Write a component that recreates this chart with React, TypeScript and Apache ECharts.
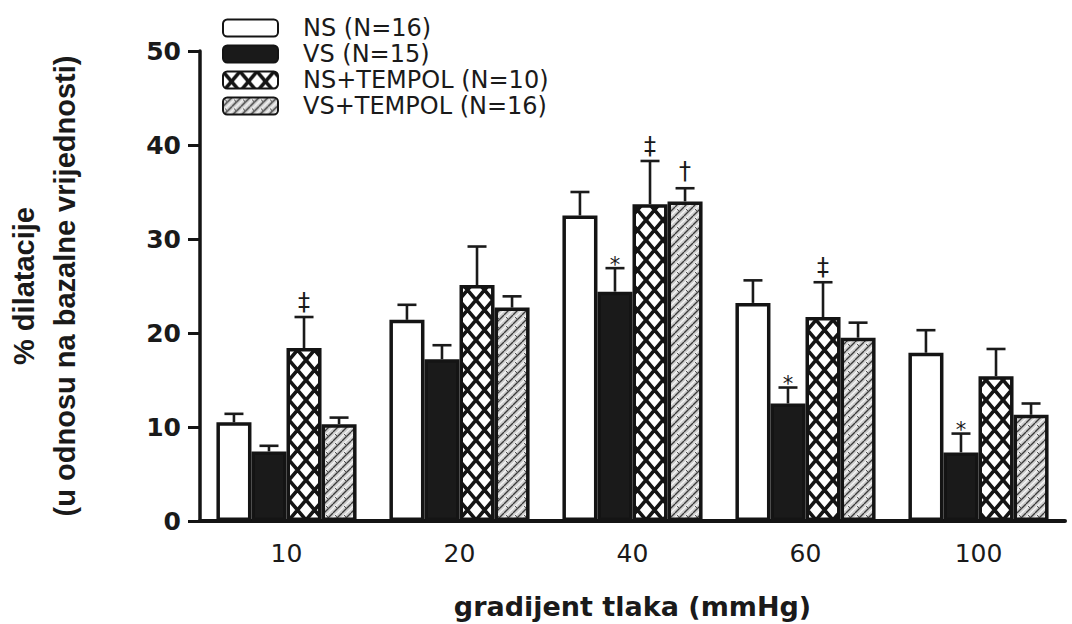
import React, { useEffect, useRef } from "react";
import * as echarts from "echarts";

const categories = ["10", "20", "40", "60", "100"];
const seriesNames = ["NS (N=16)", "VS (N=15)", "NS+TEMPOL (N=10)", "VS+TEMPOL (N=16)"];

const nsValues = [10.5, 21.4, 32.5, 23.2, 17.9];
const vsValues = [7.4, 17.2, 24.4, 12.5, 7.3];
const nsTempolValues = [18.4, 25.1, 33.7, 21.7, 15.4];
const vsTempolValues = [10.3, 22.7, 34.0, 19.5, 11.3];

const nsErrors = [0.9, 1.6, 2.5, 2.4, 2.4];
const vsErrors = [0.6, 1.5, 2.5, 1.7, 2.0];
const nsTempolErrors = [3.3, 4.1, 4.6, 3.7, 2.9];
const vsTempolErrors = [0.7, 1.2, 1.4, 1.6, 1.2];

const nsMarks = ["", "", "", "", ""];
const vsMarks = ["", "", "*", "*", "*"];
const nsTempolMarks = ["‡", "", "‡", "‡", ""];
const vsTempolMarks = ["", "", "†", "", ""];

const yTicks = [0, 10, 20, 30, 40, 50];

function makeCrossHatch() {
  const w = 17, h = 20;
  const c = document.createElement("canvas");
  c.width = w; c.height = h;
  const ctx = c.getContext("2d")!;
  ctx.fillStyle = "#ffffff";
  ctx.fillRect(0, 0, w, h);
  ctx.strokeStyle = "#141414";
  ctx.lineWidth = 3.6;
  for (let k = -1; k <= 1; k++) {
    ctx.beginPath();
    ctx.moveTo(k * w, 0); ctx.lineTo(k * w + w, h);
    ctx.moveTo(k * w + w, 0); ctx.lineTo(k * w, h);
    ctx.stroke();
  }
  return { image: c.toDataURL(), repeat: "repeat", imageWidth: w, imageHeight: h };
}

function makeBrick() {
  const s = 9;
  const c = document.createElement("canvas");
  c.width = s; c.height = s;
  const ctx = c.getContext("2d")!;
  ctx.fillStyle = "#cfcfcf";
  ctx.fillRect(0, 0, s, s);
  ctx.strokeStyle = "#3a3a3a";
  ctx.lineWidth = 1.3;
  for (let k = -1; k <= 1; k++) {
    ctx.beginPath();
    ctx.moveTo(k * s, s); ctx.lineTo(k * s + s, 0);
    ctx.stroke();
  }
  ctx.strokeStyle = "#f4f4f4";
  ctx.lineWidth = 1.4;
  for (let k = -1; k <= 1; k++) {
    ctx.beginPath();
    ctx.moveTo(k * s + s / 2, s); ctx.lineTo(k * s + s / 2 + s, 0);
    ctx.stroke();
  }
  ctx.strokeStyle = "#555555";
  ctx.lineWidth = 1;
  ctx.beginPath();
  ctx.moveTo(2, 2); ctx.lineTo(4.5, 4.5);
  ctx.stroke();
  return { image: c.toDataURL(), repeat: "repeat", imageWidth: s, imageHeight: s };
}

const CAT_GAP = 0.19;

export default function App() {
  const ref = useRef<HTMLDivElement>(null);

  useEffect(() => {
    if (!ref.current) return;
    const chart = echarts.init(ref.current, null, { renderer: "svg" });

    const values = [nsValues, vsValues, nsTempolValues, vsTempolValues];
    const errors = [nsErrors, vsErrors, nsTempolErrors, vsTempolErrors];
    const marks = [nsMarks, vsMarks, nsTempolMarks, vsTempolMarks];
    const fills: any[] = ["#ffffff", "#1a1a1a", makeCrossHatch(), makeBrick()];

    const barSeries = values.map((vals, s) => ({
      name: seriesNames[s],
      type: "bar",
      data: vals,
      barGap: "0%",
      barCategoryGap: CAT_GAP * 100 + "%",
      itemStyle: { color: fills[s], borderColor: "#141414", borderWidth: 3.5 },
      z: 2,
    }));

    const markOffset: Record<string, number> = { "‡": -3, "†": -5, "*": 7 };
    const markSize: Record<string, number> = { "‡": 24, "†": 24, "*": 21 };

    const errSeries = values.map((vals, s) => ({
      name: seriesNames[s] + " err",
      type: "custom",
      z: 3,
      data: vals.map((v, i) => [i, v, errors[s][i]]),
      encode: { x: 0, y: 1 },
      renderItem: (params: any, api: any) => {
        const cat = api.value(0);
        const val = api.value(1);
        const err = api.value(2);
        const base = api.coord([cat, val]);
        const top = api.coord([cat, val + err]);
        const band = api.size([1, 0])[0];
        const bw = (band * (1 - CAT_GAP)) / 4;
        const x = base[0] + (s - 1.5) * bw;
        const lineStyle = { stroke: "#1a1a1a", lineWidth: 2.6 };
        const children: any[] = [
          { type: "line", shape: { x1: x, y1: base[1], x2: x, y2: top[1] }, style: lineStyle },
          { type: "line", shape: { x1: x - 9.5, y1: top[1], x2: x + 9.5, y2: top[1] }, style: lineStyle },
        ];
        const m = marks[s][params.dataIndex];
        if (m) {
          children.push({
            type: "text",
            style: {
              text: m,
              x: x,
              y: top[1] + (markOffset[m] || 0),
              align: "center",
              verticalAlign: "bottom",
              fontFamily: "DejaVu Sans",
              fontSize: markSize[m] || 20,
              fill: "#1a1a1a",
            },
          });
        }
        return { type: "group", children };
      },
    }));

    chart.setOption({
      animation: false,
      backgroundColor: "#ffffff",
      grid: { left: 200, right: 7, top: 51, bottom: 103, containLabel: false, outerBoundsMode: "none" },
      legend: {
        data: seriesNames,
        orient: "vertical",
        left: 217,
        top: 11,
        itemWidth: 55,
        itemHeight: 17,
        itemGap: 2,
        selectedMode: false,
        textStyle: {
          fontFamily: "DejaVu Sans",
          fontSize: 24,
          lineHeight: 24,
          color: "#1a1a1a",
          padding: [0, 0, 0, 20],
        },
      },
      xAxis: {
        type: "category",
        data: categories,
        axisLine: { lineStyle: { color: "#141414", width: 4 } },
        axisTick: { show: false },
        axisLabel: {
          fontFamily: "DejaVu Sans",
          fontSize: 25,
          color: "#1a1a1a",
          margin: 20,
        },
        name: "gradijent tlaka (mmHg)",
        nameLocation: "middle",
        nameGap: 72,
        nameTextStyle: {
          fontFamily: "DejaVu Sans",
          fontWeight: "bold",
          fontSize: 27,
          color: "#1a1a1a",
        },
      },
      yAxis: {
        type: "value",
        min: yTicks[0],
        max: yTicks[yTicks.length - 1],
        interval: 10,
        splitLine: { show: false },
        axisLine: { show: true, lineStyle: { color: "#141414", width: 3.5 } },
        axisTick: { show: true, length: 12, lineStyle: { color: "#141414", width: 3 } },
        axisLabel: {
          fontFamily: "DejaVu Sans",
          fontWeight: "bold",
          fontSize: 25,
          color: "#1a1a1a",
          margin: 19,
        },
        name: "% dilatacije\n(u odnosu na bazalne vrijednosti)",
        nameLocation: "middle",
        nameRotate: 90,
        nameGap: 115,
        nameTextStyle: {
          fontFamily: "Liberation Sans",
          fontWeight: "bold",
          fontSize: 29,
          lineHeight: 41,
          color: "#1a1a1a",
        },
      },
      series: [...barSeries, ...errSeries],
    });

    return () => chart.dispose();
  }, []);

  return <div ref={ref} style={{ width: 1072, height: 624, position: "absolute", left: 0, top: 0 }} />;
}
